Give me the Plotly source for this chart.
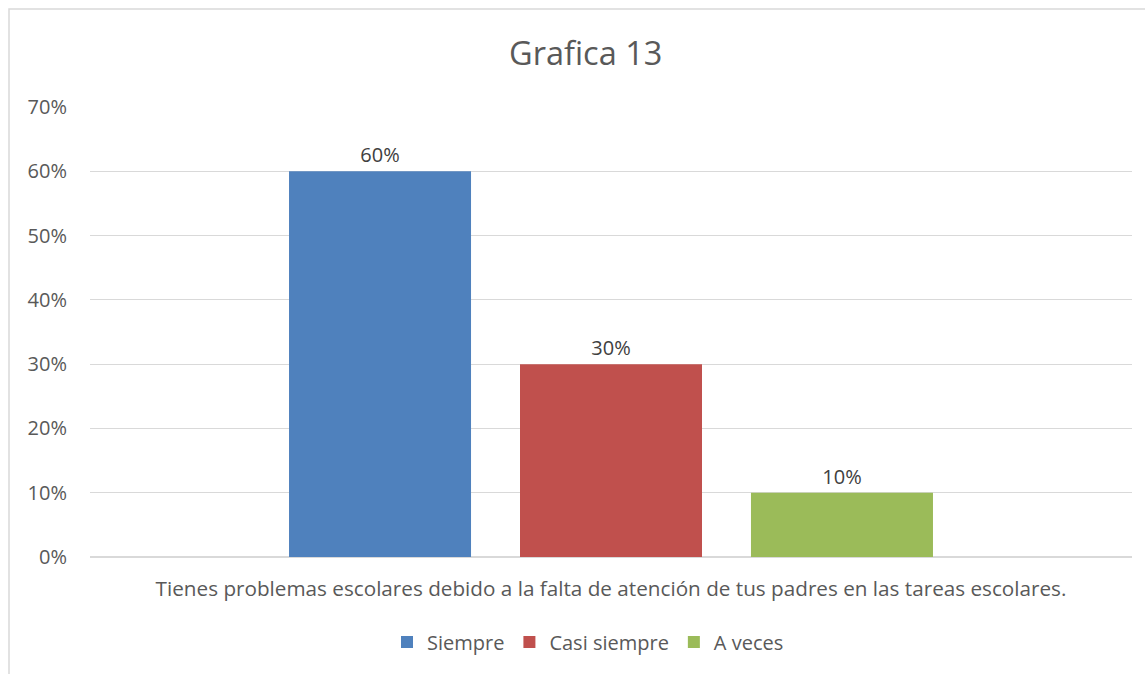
import plotly.graph_objects as go

categoria = ["Tienes problemas escolares debido a la falta de atención de tus padres en las tareas escolares."]
series = ["Siempre", "Casi siempre", "A veces"]
valores = [0.60, 0.30, 0.10]
colores = ["#4f81bd", "#c0504d", "#9bbb59"]
ticks = [0, 0.1, 0.2, 0.3, 0.4, 0.5, 0.6, 0.7]

W, H = 1145, 674
ML, MR, MT, MB = 90, 13, 107, 117
PW = W - ML - MR
PH = H - MT - MB

FONT = "Open Sans"
GRIS = "#595959"

fig = go.Figure()
for nombre, v, c in zip(series, valores, colores):
    fig.add_trace(
        go.Bar(
            x=categoria,
            y=[v],
            name=nombre,
            marker=dict(color=c, line=dict(width=0)),
            text=[f"{v:.0%}"],
            textposition="outside",
            textfont=dict(size=20, color="#404040", family=FONT),
            cliponaxis=False,
        )
    )


def px_x(p):
    return (p - ML) / PW


def px_y(p):
    return (H - MB - p) / PH


fig.update_layout(
    width=W,
    height=H,
    margin=dict(l=ML, r=MR, t=MT, b=MB),
    paper_bgcolor="white",
    plot_bgcolor="white",
    barmode="group",
    bargap=0.335,
    bargroupgap=0.212,
    showlegend=True,
    legend=dict(
        orientation="h",
        x=px_x(588),
        xanchor="center",
        y=px_y(642),
        yanchor="middle",
        font=dict(size=20, color=GRIS, family=FONT),
        itemwidth=30,
        traceorder="normal",
    ),
    font=dict(family=FONT, color=GRIS),
    xaxis=dict(
        showgrid=False,
        showline=False,
        ticks="",
        tickfont=dict(size=20.7, color=GRIS, family=FONT),
        ticklabelstandoff=17,
    ),
    yaxis=dict(
        range=[0, 0.7],
        tickvals=ticks,
        tickformat=".0%",
        showgrid=True,
        gridcolor="#d9d9d9",
        gridwidth=1,
        zeroline=True,
        zerolinecolor="#d9d9d9",
        showline=False,
        ticks="",
        ticklabelstandoff=22,
        tickfont=dict(size=20, color=GRIS, family=FONT),
    ),
    shapes=[
        dict(
            type="rect",
            xref="paper",
            yref="paper",
            x0=px_x(9),
            x1=px_x(1160),
            y0=px_y(700),
            y1=px_y(9),
            line=dict(color="#d9d9d9", width=1.5),
            fillcolor="rgba(0,0,0,0)",
            layer="below",
        )
    ],
    annotations=[
        dict(
            text="Grafica 13",
            xref="paper",
            yref="paper",
            x=px_x(585),
            y=px_y(53),
            xanchor="center",
            yanchor="middle",
            showarrow=False,
            font=dict(size=32.5, color=GRIS, family=FONT),
        )
    ],
)

fig.write_html(
    "out.html",
    config={"displayModeBar": False},
    post_script="document.body.style.margin='0';",
)
